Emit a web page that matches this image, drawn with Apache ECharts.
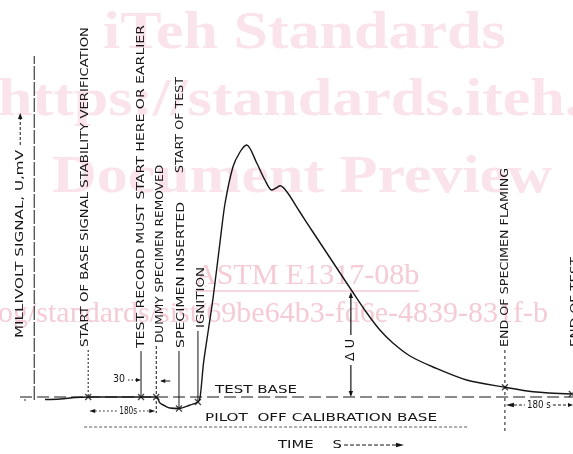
<!DOCTYPE html>
<html><head><meta charset="utf-8">
<script src="https://cdn.jsdelivr.net/npm/echarts@6/dist/echarts.min.js"></script>
<style>html,body{margin:0;padding:0;background:#fff}#c{width:573px;height:454px}</style>
</head><body><div id="c"></div>
<script>
// ---- data (time in s, signal in arbitrary mV units; test base = 0) ----
const curveTime = [-363,-322,-282,-247,-105,-64,-54,-40,-27,-3,27,48,54,63,76,89,108,121,142,161,179,206,228,246,258,269,287,322,357,421,462,502,537,572,618,680,770,873,949,1053];
const curveSignal = [-1.0,-0.8,-0.2,0,0,0,-2.4,-3.6,-4.4,-4.6,-3.2,-2.0,0.1,13.6,26.8,40,62.8,77.6,92,98,100.8,93.6,86.8,82.8,83.6,84.5,82.1,74,66,51.6,42.4,33.6,26.8,21.6,16.4,12,6.8,3.9,2.1,1.2];
const eventTimes = [-247,-105,-64,-3,48,873,1053];
const eventSignals = [0,0,0,-4.6,-2.0,3.9,1.2];
const eventLabels = ["START OF BASE SIGNAL STABILITY VERIFICATION","TEST RECORD MUST START HERE OR EARLIER","DUMMY SPECIMEN REMOVED","SPECIMEN INSERTED","IGNITION","END OF SPECIMEN FLAMING","END OF TEST"];
const startOfTestLabel = "START OF TEST";
const deltaUTime = 459;
const deltaUSignal = 42;
const axisTime = -392;
const axisRange = [-1.2, 136.4];
const testBaseRange = [-430, 1056];
const pilotRange = [-258, 774];
const pilotLevel = -12;
const yAxisTitle = "MILLIVOLT SIGNAL, U,mV";
const xAxisTitle = "TIME    S";
const interval180Left = [-247, -64];
const interval180Right = [873, 1056];

// ---- chart ----
const INK = '#151515';
const chart = echarts.init(document.getElementById('c'), null, {renderer:'canvas'});
const curve = curveTime.map((t,i)=>[t,curveSignal[i]]);
const marks = eventTimes.map((t,i)=>[t,eventSignals[i]]);
chart.setOption({
  animation:false,
  grid:{left:0,right:0,top:0,bottom:0},
  xAxis:{type:'value',min:-484,max:1056,show:false},
  yAxis:{type:'value',min:-22.8,max:158.8,show:false},
  series:[
    {type:'line',data:curve,smooth:0.3,symbol:'none',lineStyle:{color:INK,width:1.4},z:6},
    {type:'scatter',data:marks,symbol:'path://M0,0L10,10M10,0L0,10',symbolSize:6,itemStyle:{color:'transparent',borderColor:INK,borderWidth:1.3},z:7},
    {type:'line',data:[[axisTime,axisRange[0]],[axisTime,axisRange[1]]],symbol:'none',lineStyle:{color:INK,width:1,type:[14,2]},z:5},
    {type:'line',data:[[testBaseRange[0],0],[testBaseRange[1],0]],symbol:'none',lineStyle:{color:INK,width:1,type:[12,5]},z:5},
    {type:'line',data:[[pilotRange[0],pilotLevel],[pilotRange[1],pilotLevel]],symbol:'none',lineStyle:{color:'#333',width:0.8,type:[3,2]},z:5}
  ]
});

const P = (t,v)=>chart.convertToPixel({gridIndex:0},[t,v]);
const cv = document.createElement('canvas').getContext('2d');
function measure(text,font){cv.font=font;return cv.measureText(text).width;}
const F = '10px "DejaVu Sans"';
function vtext(text,x,yb,yt,font){font=font||F;const s=(yb-yt)/measure(text,font);
  return {type:'text',x:x,y:yb,rotation:Math.PI/2,scaleX:s,silent:true,z:10,style:{text:text,font:font,fill:INK,align:'left',verticalAlign:'middle'}};}
function htext(text,xl,xr,yc,font){font=font||F;const s=(xr-xl)/measure(text,font);
  return {type:'text',x:xl,y:yc,scaleX:s,silent:true,z:10,style:{text:text,font:font,fill:INK,align:'left',verticalAlign:'middle'}};}
function ln(x1,y1,x2,y2,dash,w){return {type:'line',silent:true,z:10,shape:{x1,y1,x2,y2},style:{stroke:INK,lineWidth:w||1,lineDash:dash||null}};}
function head(x,y,dir,len,hw){len=len||6;hw=hw||2.3;let pts;
  if(dir==='r')pts=[[x,y],[x-len,y-hw],[x-len,y+hw]];
  else if(dir==='l')pts=[[x,y],[x+len,y-hw],[x+len,y+hw]];
  else if(dir==='u')pts=[[x,y],[x-hw,y+len],[x+hw,y+len]];
  else pts=[[x,y],[x-hw,y-len],[x+hw,y-len]];
  return {type:'polygon',silent:true,z:10,shape:{points:pts},style:{fill:INK}};}

const evLayout = [
  {dx:-3,top:27,bottom:347,lt:350,lb:null,dash:[2,2]},
  {dx:0,top:25,bottom:348,lt:351,lb:null,dash:null},
  {dx:4,top:165,bottom:343,lt:346,lb:413,dash:[3,2]},
  {dx:2,top:202,bottom:348,lt:351,lb:null,dash:null},
  {dx:3,top:267,bottom:328,lt:331,lb:null,dash:null},
  {dx:0,top:168,bottom:347,lt:350,lb:432,dash:[3,3]},
  {dx:4,top:257,bottom:347,lt:null,lb:null,dash:null}
];
const g = [];
// watermark
const WM = '#fae3ea', WM2 = '#f5cbd5';
const wmFont = 'bold 53px "Liberation Serif"';
g.push({type:'text',x:103,y:61,scaleX:1.17,silent:true,z:0,style:{text:'iTeh Standards',font:wmFont,fill:WM,align:'left',verticalAlign:'bottom'}});
g.push({type:'text',x:-2,y:128,scaleX:1.17,silent:true,z:0,style:{text:'https://standards.iteh.ai/',font:wmFont,fill:WM,align:'left',verticalAlign:'bottom'}});
g.push({type:'text',x:52,y:205,scaleX:1.17,silent:true,z:0,style:{text:'Document Preview',font:wmFont,fill:WM,align:'left',verticalAlign:'bottom'}});
const wm2Font = '30px "Liberation Serif"';
g.push({type:'text',x:195,y:291,silent:true,z:0,style:{text:'ASTM E1317-08b',font:wm2Font,fill:WM2,align:'left',verticalAlign:'bottom'}});
g.push({type:'line',silent:true,z:0,shape:{x1:195,y1:291,x2:195+measure('ASTM E1317-08b',wm2Font),y2:291},style:{stroke:WM2,lineWidth:1.5}});
const pre = 'https://standards.iteh.ai/catal';
g.push({type:'text',x:-2-measure(pre,wm2Font),y:329,silent:true,z:0,style:{text:pre+'og/standards/sist/69be64b3-fd6e-4839-831f-b',font:wm2Font,fill:WM2,align:'left',verticalAlign:'bottom'}});

// event lines and labels
eventTimes.forEach((t,i)=>{
  const L = evLayout[i];
  const [x,ym] = P(t,eventSignals[i]);
  g.push(vtext(eventLabels[i], x+L.dx, L.bottom, L.top));
  if(L.lt!==null){g.push(ln(x,L.lt,x,L.lb!==null?L.lb:ym,L.dash));}
});
{ const [x] = P(eventTimes[3],0); g.push(vtext(startOfTestLabel, x+1, 173, 77)); }
// y axis title and arrow
{ const [x] = P(axisTime,0);
  g.push(vtext(yAxisTitle, x-14, 338, 150));
  g.push(ln(x-14,145,x-14,119,[3,2]));
  g.push(head(x-14,113,'u'));
}
// test base / pilot labels
g.push(htext('TEST BASE',215,297,390.5,'11px "DejaVu Sans"'));
g.push(htext('PILOT  OFF CALIBRATION BASE',205,437,418,'11px "DejaVu Sans"'));
// time label
g.push(htext(xAxisTitle,278,342,445,'11px "DejaVu Sans"'));
g.push(ln(344,445,397,445,[4,2]));
g.push(head(404,445,'r',8,2.3));
// delta U
{ const [x,y0] = P(deltaUTime,0); const [,y1] = P(deltaUTime,deltaUSignal);
  g.push(ln(x,y1+5,x,y0-62,null,1.2));
  g.push(ln(x,y0-32,x,y0-2,null,1.2));
  g.push(head(x,y1,'u',6,2.2));
  g.push(head(x,y0,'d',6,2.2));
  g.push(vtext('Δ U',x,y0-36,y0-58,'12px "DejaVu Sans"'));
}
// 30 s
{ const [xa] = P(eventTimes[1],0); const [xb] = P(eventTimes[2],0);
  g.push(htext('30',113,125,379,'10px "DejaVu Sans"'));
  g.push(ln(128,380,xa-5,380,[1.5,2]));
  g.push(head(xa,380,'r',5,2));
  g.push(ln(xb+5,381,xb+14,381,null));
  g.push(head(xb+4,381,'l',5,2));
}
// 180 s left
{ const [xa] = P(interval180Left[0],0); const [xb] = P(interval180Left[1],0); const y=411;
  g.push(head(xa+1,y,'l',6,2)); g.push(ln(xa+7,y,xa+29,y,[1.5,2.5]));
  g.push(htext('180s',xa+31,xa+49,y,'10px "DejaVu Sans"'));
  g.push(ln(xa+51,y,xb-6,y,[1.5,2.5])); g.push(head(xb-1,y,'r',6,2));
}
// 180 s right
{ const [xa] = P(interval180Right[0],0); const [xb] = P(interval180Right[1],0); const y=405;
  g.push(head(xa+1,y,'l',8,2.2)); g.push(ln(xa+9,y,xa+20,y,[3,2]));
  g.push(htext('180 s',xa+22,xa+46,y,'10px "DejaVu Sans"'));
  g.push(ln(xa+48,y,xb-4,y,[3,2])); g.push(head(xb,y,'r',5,2));
}
// small tick at start of base line
g.push({type:'circle',silent:true,z:10,shape:{cx:25,cy:400,r:0.8},style:{fill:INK}});
chart.setOption({graphic:{elements:g}});
</script></body></html>
